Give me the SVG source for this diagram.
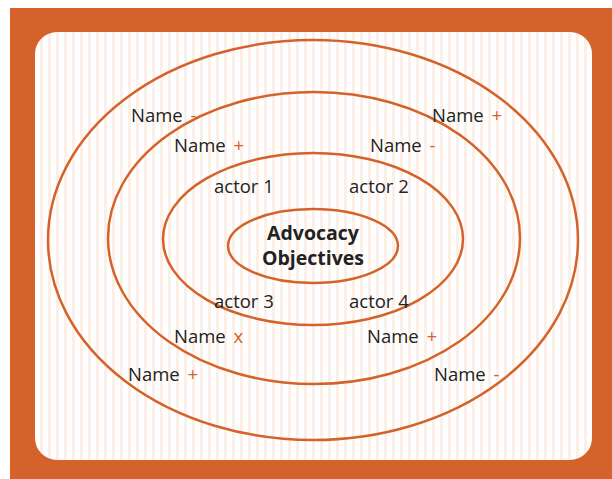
<svg xmlns="http://www.w3.org/2000/svg" width="612" height="479" viewBox="0 0 612 479">
<defs>
<pattern id="stripes" x="0" y="0" width="8" height="10" patternUnits="userSpaceOnUse">
<rect x="0" y="0" width="8" height="10" fill="#ffffff"/>
<rect x="0" y="0" width="3" height="10" fill="#fcefe6"/>
</pattern>
<style>
.ring{fill:none;stroke:#d4622a;stroke-width:2.5}
.t{font-family:"Open Sans","DejaVu Sans",sans-serif;font-size:18.5px;fill:#222}
.s{fill:#d4622a}
.b{font-family:"Open Sans","DejaVu Sans",sans-serif;font-size:19.5px;font-weight:bold;fill:#222;text-anchor:middle}
</style>
</defs>
<rect x="10" y="8" width="602" height="471" fill="#d4622a"/>
<rect x="35" y="32" width="557" height="428" rx="22" fill="url(#stripes)"/>
<g id="ring4"><ellipse class="ring" cx="313" cy="240" rx="265" ry="200"/></g>
<g id="ring3"><ellipse class="ring" cx="314" cy="238" rx="206" ry="146"/></g>
<g id="ring2"><ellipse class="ring" cx="313" cy="239" rx="150" ry="86"/></g>
<g id="center">
<ellipse class="ring" cx="313" cy="246" rx="85" ry="37"/>
<text class="b" x="313" y="240">Advocacy</text>
<text class="b" x="313" y="265">Objectives</text>
</g>
<g id="labels">
<text class="t" x="131" y="122">Name <tspan class="s" dx="3">-</tspan></text>
<text class="t" x="432" y="122">Name <tspan class="s" dx="3">+</tspan></text>
<text class="t" x="174" y="152">Name <tspan class="s" dx="3">+</tspan></text>
<text class="t" x="370" y="152">Name <tspan class="s" dx="3">-</tspan></text>
<text class="t" x="214" y="193">actor 1</text>
<text class="t" x="349" y="193">actor 2</text>
<text class="t" x="214" y="308">actor 3</text>
<text class="t" x="349" y="308">actor 4</text>
<text class="t" x="174" y="343">Name <tspan class="s" dx="3">x</tspan></text>
<text class="t" x="367" y="343">Name <tspan class="s" dx="3">+</tspan></text>
<text class="t" x="128" y="381">Name <tspan class="s" dx="3">+</tspan></text>
<text class="t" x="434" y="381">Name <tspan class="s" dx="3">-</tspan></text>
</g>
</svg>
